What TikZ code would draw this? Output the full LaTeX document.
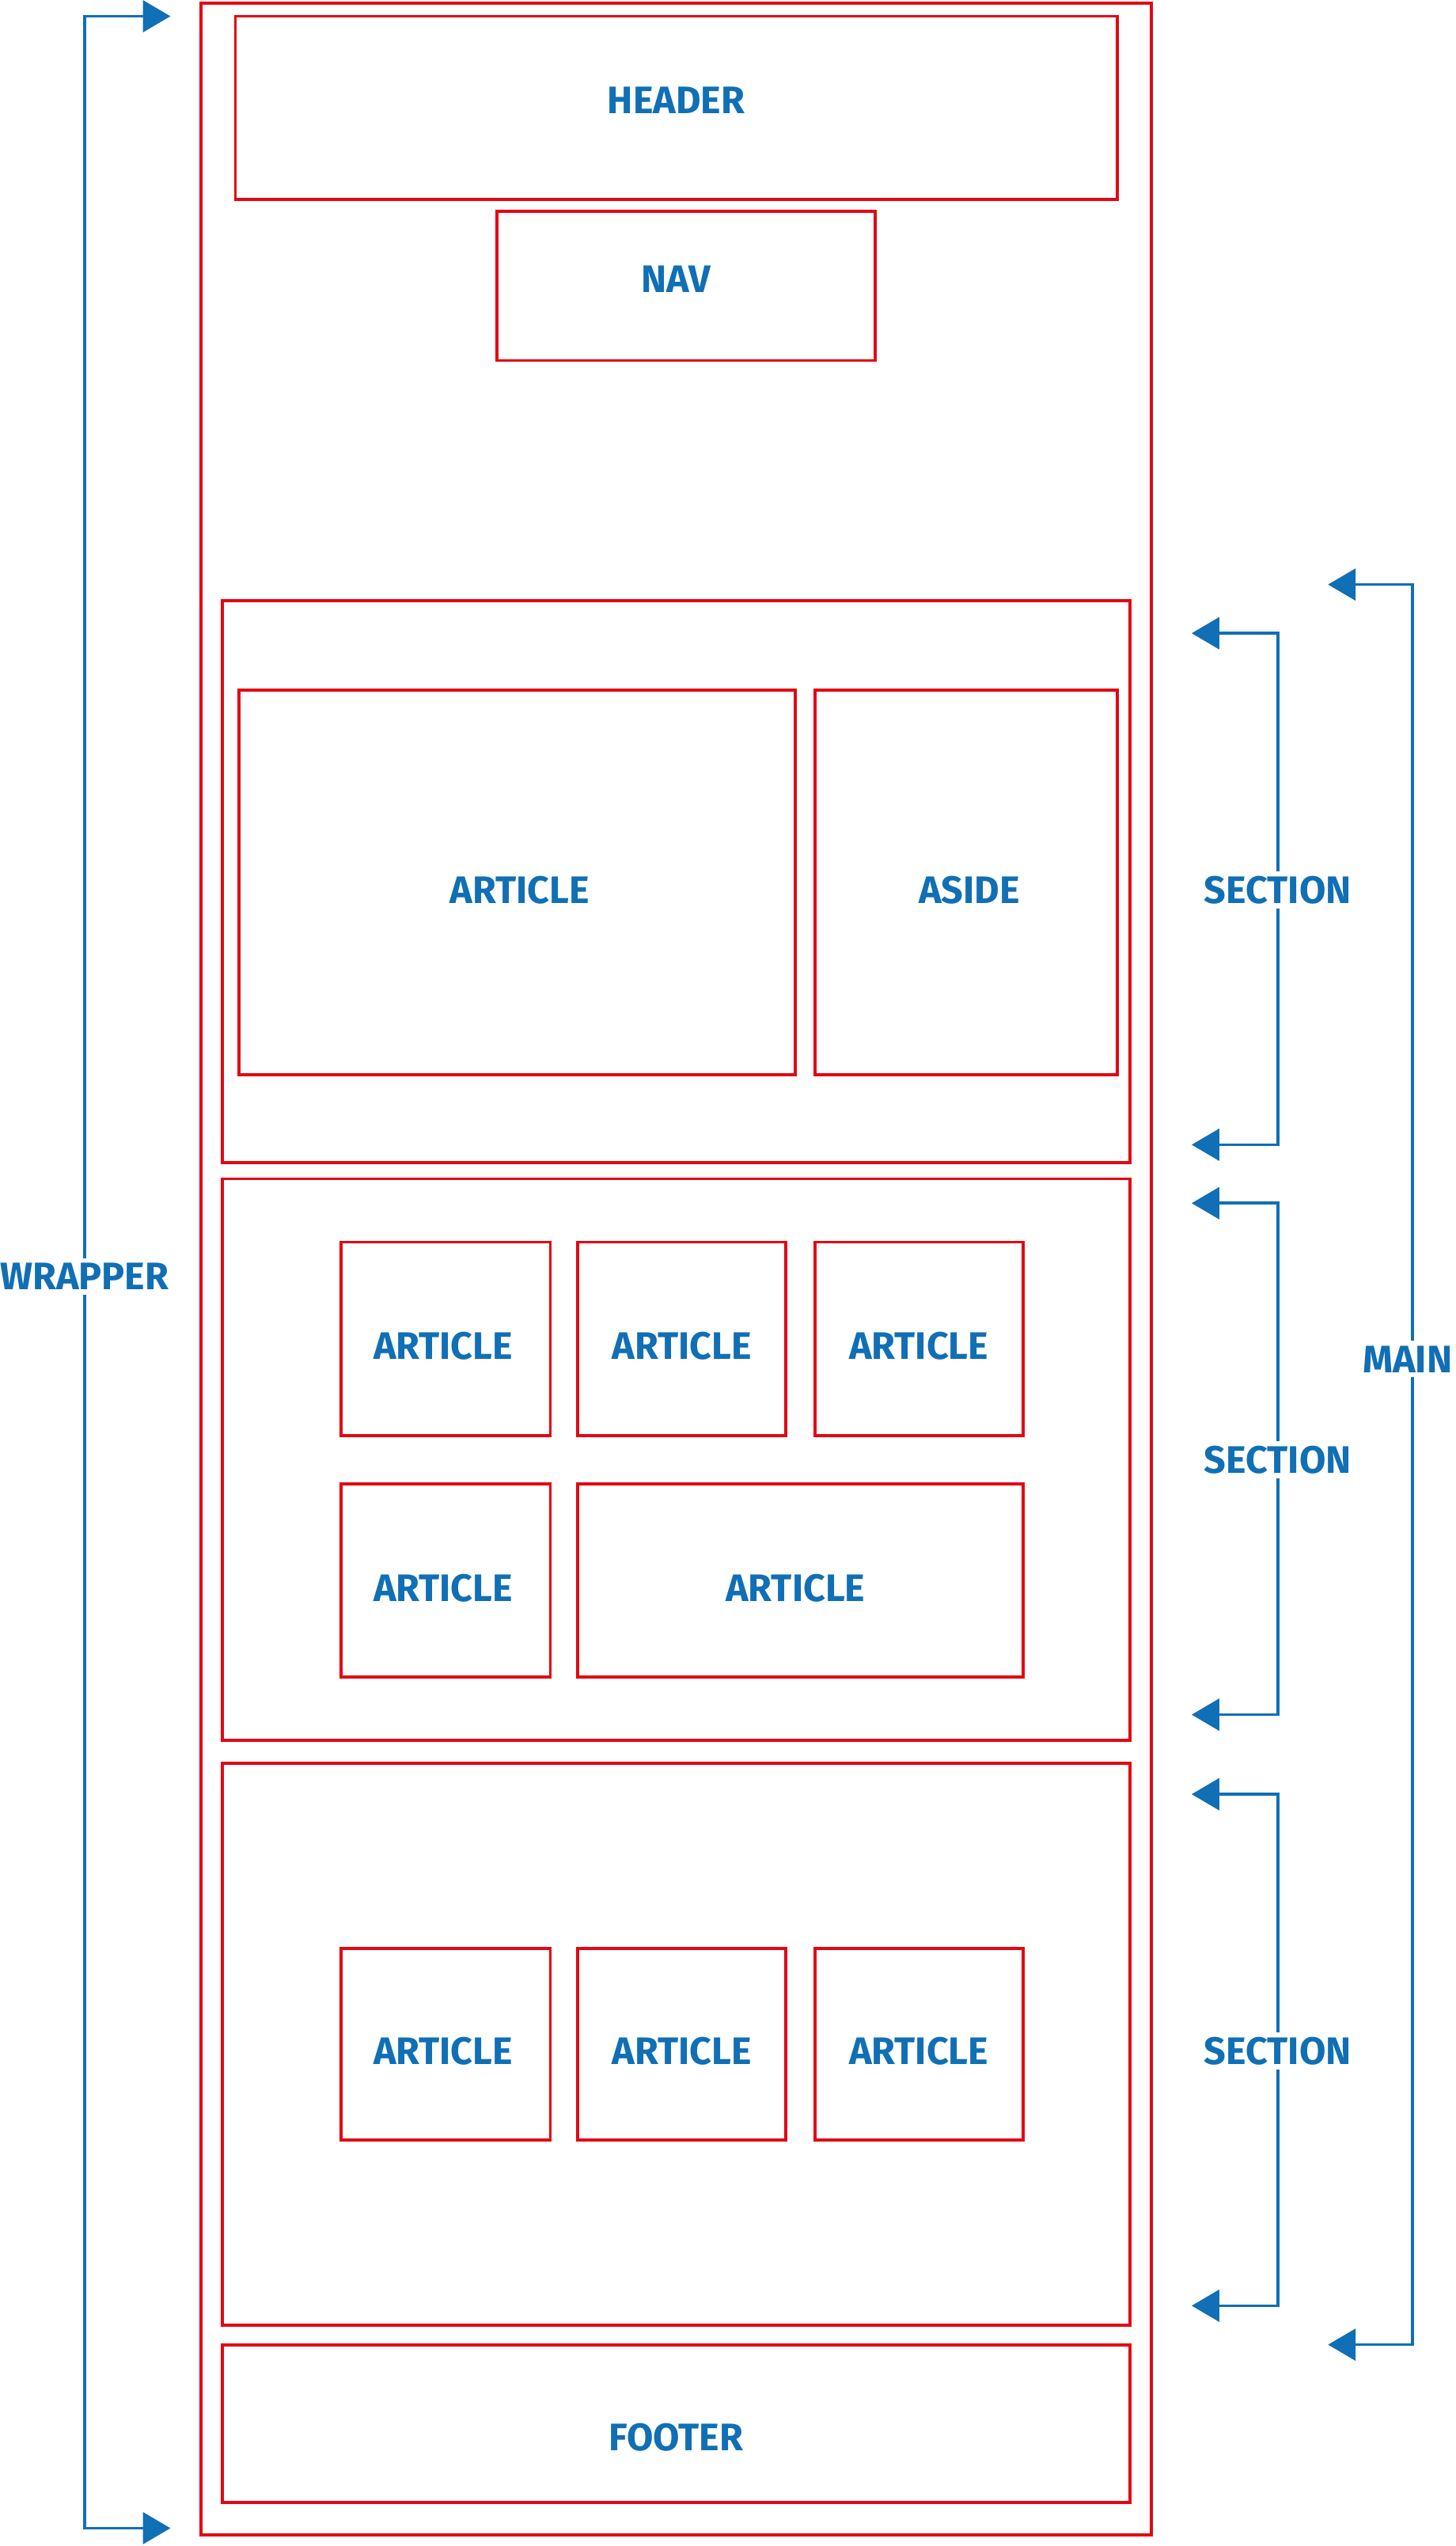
\documentclass[tikz,border=0pt]{standalone}
\usepackage{xcolor}
\usepackage{fontspec}
\setmainfont{Fira Sans}
\usepackage{tikz}
\usetikzlibrary{arrows.meta,positioning,calc}
\definecolor{boxred}{RGB}{227,6,19}
\definecolor{tagblue}{RGB}{16,111,181}

\begin{document}
\begin{tikzpicture}[x=1pt, y=-1pt,
    box/.style={draw=boxred, line width=1.9pt, rectangle, inner sep=0pt},
    txt/.style={text=tagblue, inner sep=0pt, font=\fontsize{23.6}{28}\selectfont\bfseries},
    tag/.style={fill=white, text=tagblue, inner xsep=1pt, inner ysep=3pt,
        font=\fontsize{23.6}{28}\selectfont\bfseries},
    bracket/.style={draw=tagblue, line width=1.8pt, {Triangle[length=17pt, width=19.5pt]}-{Triangle[length=17pt, width=19.5pt]}}]
    \useasboundingbox (0,0) rectangle (896.8,1568);
    \node[box, minimum width=585pt, minimum height=1559pt] (wrapper) at (416.5,781.5) {};
    \node[box, minimum width=543pt, minimum height=113pt] (header) at (416.5,66.5) {};
    \node[box, minimum width=233pt, minimum height=92pt] (nav) at (422.5,176) {};
    \node[box, minimum width=559pt, minimum height=346pt] (sec1) at (416.5,543) {};
    \node[box, minimum width=343pt, minimum height=237pt] (art1) at (318.5,543.5) {};
    \node[box, minimum width=186pt, minimum height=237pt] (aside) at (595,543.5) {};
    \node[box, minimum width=559pt, minimum height=346pt] (sec2) at (416.5,899) {};
    \node[box, minimum width=129pt, minimum height=119pt] (art2) at (274.5,824.5) {};
    \node[box, minimum width=128pt, minimum height=119pt] (art3) at (420,824.5) {};
    \node[box, minimum width=128pt, minimum height=119pt] (art4) at (566,824.5) {};
    \node[box, minimum width=129pt, minimum height=119pt] (art5) at (274.5,973.5) {};
    \node[box, minimum width=274pt, minimum height=119pt] (art6) at (493,973.5) {};
    \node[box, minimum width=559pt, minimum height=346pt] (sec3) at (416.5,1259) {};
    \node[box, minimum width=129pt, minimum height=118pt] (art7) at (274.5,1259) {};
    \node[box, minimum width=128pt, minimum height=118pt] (art8) at (420,1259) {};
    \node[box, minimum width=128pt, minimum height=118pt] (art9) at (566,1259) {};
    \node[box, minimum width=559pt, minimum height=97pt] (footer) at (416.5,1492.5) {};

    \node[txt] (header text) at (416.5,62) {HEADER};
    \node[txt] (nav text) at (416.5,172) {NAV};
    \node[txt] (art1 text) at (320,548) {ARTICLE};
    \node[txt] (aside text) at (597,548) {ASIDE};
    \node[txt] (art2 text) at (273,829) {ARTICLE};
    \node[txt] (art3 text) at (420,829) {ARTICLE};
    \node[txt] (art4 text) at (566,829) {ARTICLE};
    \node[txt] (art5 text) at (273,978) {ARTICLE};
    \node[txt] (art6 text) at (490,978) {ARTICLE};
    \node[txt] (art7 text) at (273,1263) {ARTICLE};
    \node[txt] (art8 text) at (420,1263) {ARTICLE};
    \node[txt] (art9 text) at (566,1263) {ARTICLE};
    \node[txt] (footer text) at (416.5,1501) {FOOTER};

    \coordinate (wtop) at (105,10);
    \coordinate (wbot) at (105,1557);
    \draw[bracket] (wtop) -- ++(-53,0) |- (wbot);
    \node[tag] (wlabel) at (52,786) {WRAPPER};

    \foreach \top/\bot/\mid [count=\i] in {390/705/548, 741/1056/899, 1105/1420/1263} {
        \coordinate (s\i top) at (734,\top);
        \coordinate (s\i bot) at (734,\bot);
        \draw[bracket] (s\i top) -- ++(53,0) |- (s\i bot);
        \node[tag] (s\i label) at (787,\mid) {SECTION};
    }

    \coordinate (mtop) at (818,360);
    \coordinate (mbot) at (818,1444);
    \draw[bracket] (mtop) -- ++(52,0) |- (mbot);
    \node[tag] (mlabel) at (867,837) {MAIN};
\end{tikzpicture}
\end{document}
